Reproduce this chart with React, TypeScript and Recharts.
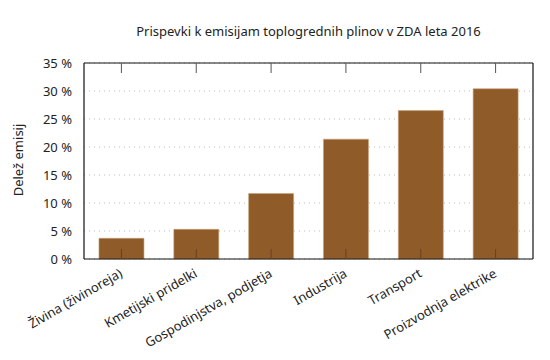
import React from "react";
import { BarChart, Bar, XAxis, YAxis, CartesianGrid } from "recharts";

const categories = [
  "Živina (živinoreja)",
  "Kmetijski pridelki",
  "Gospodinjstva, podjetja",
  "Industrija",
  "Transport",
  "Proizvodnja elektrike",
];
const shares = [3.7, 5.3, 11.7, 21.4, 26.5, 30.4];
const yTicks = [0, 5, 10, 15, 20, 25, 30, 35];

const data = categories.map((name, i) => ({ name, value: shares[i] }));

const FONT = "'Noto Sans', sans-serif";
const TEXT = "#222";
const FS = 13;

const XTick = (props: any) => {
  const { x, y, payload } = props;
  const ax = x + 2;
  const ay = y + 9;
  return (
    <text
      x={ax}
      y={ay}
      transform={`rotate(-30, ${ax}, ${ay})`}
      textAnchor="end"
      fontSize={FS}
      fontFamily={FONT}
      fill={TEXT}
    >
      {payload.value}
    </text>
  );
};

const EmptyTick = () => <g />;

export default function App() {
  return (
    <div style={{ position: "absolute", left: 0, top: 0, width: 550, height: 360, background: "#fff" }}>
      <div
        style={{
          position: "absolute",
          left: 84,
          width: 449,
          top: 22,
          textAlign: "center",
          fontFamily: FONT,
          fontSize: FS,
          color: TEXT,
        }}
      >
        Prispevki k emisijam toplogrednih plinov v ZDA leta 2016
      </div>
      <div
        style={{
          position: "absolute",
          left: 18,
          top: 160,
          transform: "translate(-50%, -50%) rotate(-90deg)",
          whiteSpace: "nowrap",
          fontFamily: FONT,
          fontSize: FS,
          color: TEXT,
        }}
      >
        Delež emisij
      </div>
      <BarChart
        width={550}
        height={360}
        data={data}
        margin={{ top: 63, right: 17, bottom: 71, left: 24 }}
        barCategoryGap="20%"
      >
        <CartesianGrid
          yAxisId="left"
          xAxisId="bottom"
          vertical={false}
          stroke="#bbbbbb"
          strokeDasharray="1 4"
        />
        <XAxis
          xAxisId="bottom"
          dataKey="name"
          interval={0}
          axisLine={{ stroke: "#111", strokeWidth: 1.2 }}
          tickLine={false}
          tick={<XTick />}
          height={30}
        />
        <XAxis
          xAxisId="top"
          dataKey="name"
          orientation="top"
          mirror
          interval={0}
          axisLine={{ stroke: "#111", strokeWidth: 1.2 }}
          tickLine={{ stroke: "#555" }}
          tickSize={10}
          tick={EmptyTick}
        />
        <YAxis
          yAxisId="left"
          domain={[0, 35]}
          ticks={yTicks}
          interval={0}
          width={60}
          axisLine={{ stroke: "#111", strokeWidth: 1.2 }}
          tickLine={false}
          tickFormatter={(v: number) => `${v} %`}
          tick={{ fontSize: FS, fontFamily: FONT, fill: TEXT }}
          tickMargin={6}
        />
        <YAxis
          yAxisId="leftInner"
          domain={[0, 35]}
          ticks={yTicks}
          interval={0}
          mirror
          axisLine={false}
          tickLine={{ stroke: "#555" }}
          tickSize={10}
          tick={EmptyTick}
        />
        <YAxis
          yAxisId="right"
          orientation="right"
          domain={[0, 35]}
          ticks={yTicks}
          interval={0}
          mirror
          axisLine={{ stroke: "#111", strokeWidth: 1.2 }}
          tickLine={{ stroke: "#555" }}
          tickSize={10}
          tick={EmptyTick}
        />
        <Bar
          xAxisId="bottom"
          yAxisId="left"
          dataKey="value"
          fill="#8f5c29"
          stroke="#c9a27a"
          strokeWidth={0.6}
          isAnimationActive={false}
        />
        <XAxis
          xAxisId="bottomInner"
          dataKey="name"
          mirror
          interval={0}
          axisLine={false}
          tickLine={{ stroke: "#6a4018" }}
          tickSize={10}
          tick={EmptyTick}
        />
      </BarChart>
    </div>
  );
}
